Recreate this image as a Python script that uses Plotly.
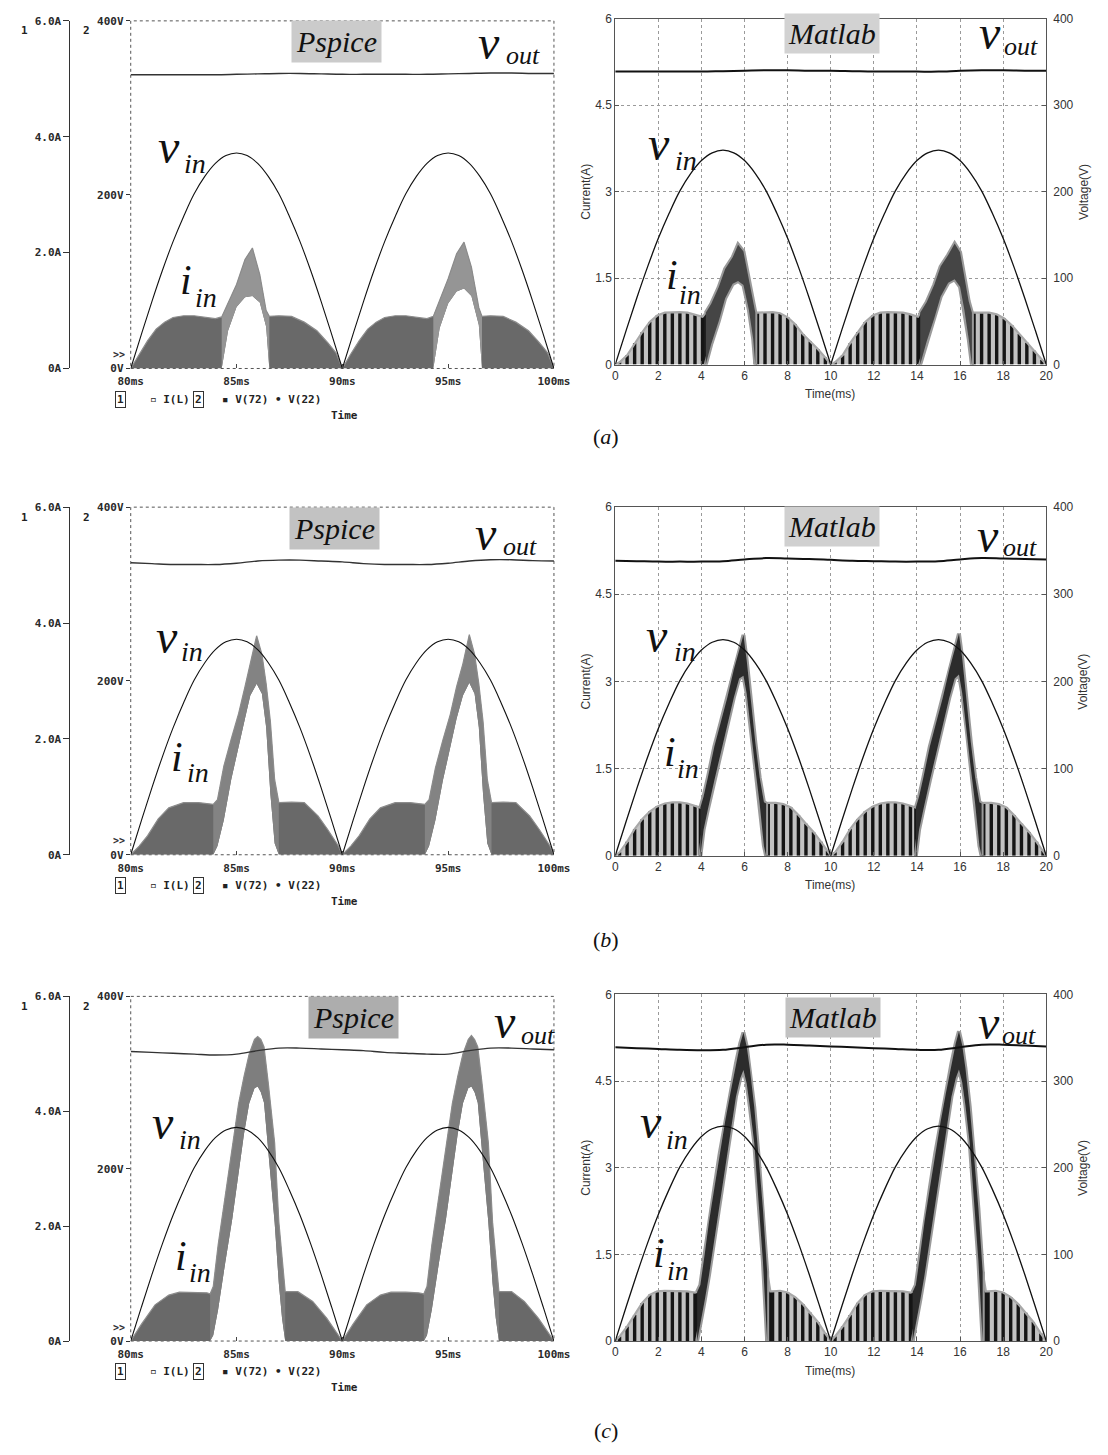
import plotly.graph_objects as go

W, H = 1108, 1455

# ------------------------------------------------------------------ data
# input voltage |v_in| (V), read every 0.5 ms
pspice_vin_t = [80.0, 80.5, 81.0, 81.5, 82.0, 82.5, 83.0, 83.5, 84.0, 84.5, 85.0, 85.5, 86.0, 86.5, 87.0, 87.5,
                88.0, 88.5, 89.0, 89.5, 90.0, 90.5, 91.0, 91.5, 92.0, 92.5, 93.0, 93.5, 94.0, 94.5, 95.0, 95.5,
                96.0, 96.5, 97.0, 97.5, 98.0, 98.5, 99.0, 99.5, 100.0]
matlab_vin_t = [0.0, 0.5, 1.0, 1.5, 2.0, 2.5, 3.0, 3.5, 4.0, 4.5, 5.0, 5.5, 6.0, 6.5, 7.0, 7.5,
                8.0, 8.5, 9.0, 9.5, 10.0, 10.5, 11.0, 11.5, 12.0, 12.5, 13.0, 13.5, 14.0, 14.5, 15.0, 15.5,
                16.0, 16.5, 17.0, 17.5, 18.0, 18.5, 19.0, 19.5, 20.0]
vin_v = [0, 39, 77, 113, 146, 175, 201, 221, 236, 245, 248, 245, 236, 221, 201, 175, 146, 113, 77, 39,
         0, 39, 77, 113, 146, 175, 201, 221, 236, 245, 248, 245, 236, 221, 201, 175, 146, 113, 77, 39, 0]

# output voltage v_out (V), read every 1 ms
pspice_vout_t = [80, 81, 82, 83, 84, 85, 86, 87, 88, 89, 90, 91, 92, 93, 94, 95, 96, 97, 98, 99, 100]
matlab_vout_t = [0, 1, 2, 3, 4, 5, 6, 7, 8, 9, 10, 11, 12, 13, 14, 15, 16, 17, 18, 19, 20]
pa_vout = [338, 338, 338, 338, 338, 338.5, 339, 339.5, 339.5, 339, 338.5, 338.5, 338.5, 338.5, 338.5, 339, 339.5, 340, 340, 339.5, 339.5]
pb_vout = [336, 335, 334, 334, 334, 335.5, 338, 339, 339, 338, 337, 335, 334, 334, 334, 335.5, 338, 339.5, 339.5, 338.5, 338]
pc_vout = [336, 335, 334, 333, 332, 333, 337, 340, 340, 339, 338, 337, 335, 334, 333, 333, 337, 340, 340, 339, 338]
ma_vout = [339, 339, 339, 339, 339, 339.5, 340, 340.5, 340.5, 340, 340, 339.5, 339, 339, 339, 339, 340, 340.5, 340.5, 340, 340]
mb_vout = [338.5, 338, 337.5, 337.5, 337.5, 338, 340, 341.5, 341, 340.5, 339.5, 338.5, 338, 337.5, 337.5, 338, 340, 341.5, 341, 340.5, 340]
mc_vout = [339, 338, 337, 336, 335.5, 336, 339, 342, 342, 341, 340, 339, 338, 337, 336, 336, 339, 342, 342, 341, 340]

# input current i_in envelopes (A): upper and lower edge of the switching ripple band
pa_t = [80.0, 80.4, 80.8, 81.2, 81.6, 82.0, 82.5, 83.0, 83.5, 84.0, 84.3, 84.6, 85.0, 85.4, 85.75, 86.1, 86.4, 86.55,
        87.0, 87.6, 88.2, 88.8, 89.3, 89.7,
        90.0, 90.4, 90.8, 91.2, 91.6, 92.0, 92.5, 93.0, 93.5, 94.0, 94.3, 94.6, 95.0, 95.4, 95.75, 96.1, 96.45, 96.6,
        97.0, 97.6, 98.2, 98.8, 99.3, 99.7, 100.0]
pa_up = [0, 0.25, 0.48, 0.68, 0.8, 0.88, 0.91, 0.91, 0.88, 0.86, 0.89, 1.12, 1.45, 1.88, 2.08, 1.62, 1.0, 0.9,
         0.91, 0.9, 0.8, 0.65, 0.45, 0.27,
         0, 0.25, 0.48, 0.68, 0.8, 0.88, 0.91, 0.91, 0.88, 0.86, 0.9, 1.18, 1.55, 1.98, 2.18, 1.75, 1.05, 0.9,
         0.91, 0.9, 0.8, 0.65, 0.45, 0.27, 0]
pa_lo = [0, 0, 0, 0, 0, 0, 0, 0, 0, 0, 0, 0.65, 1.06, 1.23, 1.25, 1.14, 0.72, 0,
         0, 0, 0, 0, 0, 0,
         0, 0, 0, 0, 0, 0, 0, 0, 0, 0, 0, 0.7, 1.12, 1.33, 1.38, 1.25, 0.75, 0,
         0, 0, 0, 0, 0, 0, 0]

pb_t = [80.0, 80.4, 80.8, 81.3, 81.8, 82.5, 83.2, 83.9, 84.1, 84.4, 84.75, 85.1, 85.4, 85.65, 85.95, 86.2, 86.4, 86.6,
        86.8, 87.0, 87.6, 88.2, 88.85, 89.3, 89.8,
        90.0, 90.4, 90.8, 91.3, 91.8, 92.5, 93.2, 93.9, 94.1, 94.4, 94.75, 95.1, 95.4, 95.7, 96.0, 96.25, 96.45, 96.65,
        96.85, 97.05, 97.6, 98.2, 98.85, 99.3, 99.8, 100.0]
pb_up = [0, 0.15, 0.33, 0.62, 0.81, 0.9, 0.9, 0.87, 0.95, 1.53, 2.0, 2.44, 2.9, 3.3, 3.78, 3.46, 2.95, 2.3,
         1.3, 0.9, 0.91, 0.9, 0.67, 0.44, 0.16,
         0, 0.15, 0.33, 0.62, 0.81, 0.9, 0.9, 0.87, 0.95, 1.5, 1.98, 2.42, 2.9, 3.3, 3.8, 3.46, 2.95, 2.3,
         1.3, 0.9, 0.91, 0.9, 0.67, 0.44, 0.16, 0]
pb_lo = [0, 0, 0, 0, 0, 0, 0, 0, 0.15, 0.6, 1.3, 1.85, 2.35, 2.75, 2.95, 2.78, 2.2, 1.05,
         0.2, 0, 0, 0, 0, 0, 0,
         0, 0, 0, 0, 0, 0, 0, 0, 0.15, 0.6, 1.28, 1.85, 2.35, 2.75, 2.97, 2.78, 2.2, 1.05,
         0.2, 0, 0, 0, 0, 0, 0, 0]

pc_t = [80.0, 80.5, 81.15, 81.8, 82.3, 83.0, 83.6, 83.75, 83.9, 84.13, 84.46, 84.8, 85.1, 85.35, 85.6, 85.85, 86.0,
        86.15, 86.3, 86.5, 86.8, 87.0, 87.15, 87.3, 87.9, 88.6, 89.26, 89.9,
        90.0, 90.5, 91.15, 91.8, 92.3, 93.0, 93.6, 93.85, 94.0, 94.23, 94.56, 94.9, 95.2, 95.45, 95.7, 95.95, 96.1,
        96.25, 96.4, 96.6, 96.9, 97.1, 97.25, 97.4, 98.0, 98.6, 99.26, 99.9, 100.0]
pc_up = [0, 0.29, 0.63, 0.8, 0.85, 0.85, 0.84, 0.82, 0.95, 1.67, 2.53, 3.34, 4.14, 4.6, 5.0, 5.25, 5.3,
         5.25, 5.12, 4.49, 3.45, 2.07, 1.4, 0.86, 0.86, 0.69, 0.4, 0.06,
         0, 0.29, 0.63, 0.8, 0.85, 0.85, 0.84, 0.82, 0.95, 1.67, 2.53, 3.34, 4.14, 4.6, 5.0, 5.25, 5.32,
         5.25, 5.12, 4.49, 3.45, 2.07, 1.4, 0.86, 0.86, 0.69, 0.4, 0.06, 0]
pc_lo = [0, 0, 0, 0, 0, 0, 0, 0, 0.1, 0.55, 1.35, 2.13, 2.9, 3.6, 4.14, 4.4, 4.43,
         4.33, 4.15, 3.3, 2.07, 1.0, 0.4, 0, 0, 0, 0, 0,
         0, 0, 0, 0, 0, 0, 0, 0, 0.1, 0.55, 1.35, 2.13, 2.9, 3.6, 4.14, 4.4, 4.43,
         4.33, 4.15, 3.3, 2.07, 1.0, 0.4, 0, 0, 0, 0, 0, 0]

ma_t = [0, 0.2, 0.55, 0.9, 1.25, 1.6, 1.95, 2.3, 2.65, 3.0, 3.35, 3.7, 4.05,
        4.2, 4.45, 4.8, 5.1, 5.45, 5.7, 5.95, 6.2, 6.4, 6.5,
        6.6, 6.95, 7.3, 7.65, 8.0, 8.35, 8.7, 9.05, 9.4, 9.75, 10.0,
        10.2, 10.55, 10.9, 11.25, 11.6, 11.95, 12.3, 12.65, 13.0, 13.35, 13.7, 14.05,
        14.15, 14.45, 14.8, 15.1, 15.45, 15.75, 16.0, 16.2, 16.4, 16.55,
        16.65, 17.0, 17.35, 17.7, 18.05, 18.4, 18.75, 19.1, 19.45, 19.8, 20.0]
ma_up = [0, 0.04, 0.16, 0.37, 0.56, 0.74, 0.85, 0.9, 0.91, 0.91, 0.9, 0.87, 0.83,
         0.9, 1.05, 1.34, 1.66, 1.86, 2.08, 1.96, 1.45, 1.05, 0.9,
         0.9, 0.91, 0.91, 0.89, 0.82, 0.7, 0.53, 0.4, 0.27, 0.12, 0,
         0.04, 0.16, 0.37, 0.56, 0.74, 0.85, 0.9, 0.91, 0.91, 0.9, 0.87, 0.83,
         0.9, 1.08, 1.38, 1.7, 1.9, 2.1, 1.95, 1.5, 1.1, 0.9,
         0.9, 0.91, 0.9, 0.87, 0.8, 0.68, 0.53, 0.38, 0.24, 0.08, 0]
ma_lo = ([0] * 13 + [0, 0.35, 0.75, 1.15, 1.4, 1.45, 1.38, 0.95, 0.45, 0] + [0] * 23
         + [0, 0.4, 0.8, 1.18, 1.42, 1.48, 1.35, 0.95, 0.45, 0] + [0] * 11)

mb_t = [0, 0.2, 0.55, 0.9, 1.25, 1.6, 1.95, 2.3, 2.65, 3.0, 3.35, 3.7,
        3.95, 4.1, 4.3, 4.6, 4.9, 5.2, 5.5, 5.75, 5.95, 6.1, 6.3, 6.5, 6.7, 6.9, 7.0,
        7.1, 7.45, 7.8, 8.15, 8.5, 8.85, 9.2, 9.55, 9.85, 10.0,
        10.2, 10.55, 10.9, 11.25, 11.6, 11.95, 12.3, 12.65, 13.0, 13.35, 13.7,
        13.95, 14.1, 14.3, 14.6, 14.9, 15.2, 15.5, 15.75, 15.95, 16.1, 16.3, 16.5, 16.7, 16.9, 17.0,
        17.1, 17.45, 17.8, 18.15, 18.5, 18.85, 19.2, 19.55, 19.85, 20.0]
mb_up = [0, 0.06, 0.24, 0.46, 0.63, 0.76, 0.85, 0.9, 0.92, 0.92, 0.9, 0.86,
         0.83, 1.02, 1.35, 1.88, 2.3, 2.72, 3.2, 3.55, 3.8, 3.36, 2.6, 1.95, 1.35, 0.92, 0.9,
         0.91, 0.91, 0.89, 0.83, 0.7, 0.55, 0.41, 0.24, 0.08, 0,
         0.06, 0.24, 0.46, 0.63, 0.76, 0.85, 0.9, 0.92, 0.92, 0.9, 0.86,
         0.83, 1.02, 1.35, 1.88, 2.3, 2.72, 3.2, 3.55, 3.82, 3.4, 2.65, 1.95, 1.35, 0.92, 0.9,
         0.91, 0.91, 0.89, 0.83, 0.7, 0.55, 0.41, 0.24, 0.08, 0]
mb_lo = ([0] * 12 + [0, 0.45, 0.8, 1.3, 1.8, 2.25, 2.72, 3.05, 3.1, 2.79, 2.15, 1.5, 0.9, 0.17, 0] + [0] * 21
         + [0, 0.45, 0.8, 1.3, 1.8, 2.25, 2.72, 3.05, 3.12, 2.8, 2.2, 1.5, 0.9, 0.17, 0] + [0] * 10)

mc_t = [0, 0.2, 0.55, 0.9, 1.25, 1.6, 1.95, 2.3, 2.65, 3.0, 3.35, 3.7,
        3.8, 3.95, 4.15, 4.35, 4.6, 4.85, 5.1, 5.35, 5.6, 5.8, 5.95, 6.1, 6.25, 6.45, 6.65, 6.85, 7.05, 7.2,
        7.3, 7.65, 8.0, 8.35, 8.7, 9.05, 9.4, 9.75, 10.0,
        10.2, 10.55, 10.9, 11.25, 11.6, 11.95, 12.3, 12.65, 13.0, 13.35, 13.7,
        13.8, 13.95, 14.15, 14.35, 14.6, 14.85, 15.1, 15.35, 15.6, 15.8, 15.95, 16.1, 16.25, 16.45, 16.65, 16.85, 17.05, 17.2,
        17.3, 17.65, 18.0, 18.35, 18.7, 19.05, 19.4, 19.75, 20.0]
mc_up = [0, 0.08, 0.25, 0.45, 0.66, 0.8, 0.86, 0.87, 0.87, 0.87, 0.86, 0.84,
         0.85, 0.97, 1.5, 2.06, 2.65, 3.25, 3.8, 4.3, 4.8, 5.15, 5.34, 5.1, 4.7, 4.05, 3.2, 2.3, 1.2, 0.86,
         0.86, 0.87, 0.84, 0.76, 0.64, 0.49, 0.33, 0.13, 0,
         0.08, 0.25, 0.45, 0.66, 0.8, 0.86, 0.87, 0.87, 0.87, 0.86, 0.84,
         0.85, 0.97, 1.5, 2.06, 2.65, 3.25, 3.8, 4.3, 4.8, 5.15, 5.36, 5.12, 4.72, 4.05, 3.2, 2.3, 1.2, 0.86,
         0.86, 0.87, 0.84, 0.76, 0.64, 0.49, 0.33, 0.13, 0]
mc_lo = ([0] * 12 + [0, 0.3, 0.7, 1.14, 1.75, 2.4, 3.0, 3.6, 4.23, 4.55, 4.69, 4.46, 4.05, 3.43, 2.4, 1.4, 0, 0]
         + [0] * 20 + [0, 0.3, 0.7, 1.14, 1.75, 2.4, 3.0, 3.6, 4.23, 4.55, 4.7, 4.48, 4.08, 3.43, 2.4, 1.4, 0, 0]
         + [0] * 9)

pspice_x_ticks = [80, 85, 90, 95, 100]
pspice_x_labels = ['80ms', '85ms', '90ms', '95ms', '100ms']
pspice_i_ticks = [0, 2, 4, 6]
pspice_i_labels = ['0A', '2.0A', '4.0A', '6.0A']
pspice_v_ticks = [0, 200, 400]
pspice_v_labels = ['0V', '200V', '400V']
matlab_x_ticks = [0, 2, 4, 6, 8, 10, 12, 14, 16, 18, 20]
matlab_i_ticks = [0, 1.5, 3, 4.5, 6]
matlab_i_labels = ['0', '1.5', '3', '4.5', '6']
matlab_v_ticks = [0, 100, 200, 300, 400]

# ------------------------------------------------------------------ helpers
SERIF = 'Liberation Serif, DejaVu Serif, serif'
MONO = 'DejaVu Sans Mono, Liberation Mono, monospace'
SANS = 'Liberation Sans, Arial, sans-serif'
PS_FONT = dict(family=MONO, size=11, color='#2a2a2a', weight='bold')
ML_FONT = dict(family=SANS, size=12, color='#333333')


def fx(p):
    return p / W


def fy(p):
    return 1 - p / H


def axname(k, n):
    return f'{k}axis' if n == 1 else f'{k}axis{n}'


def ref(k, n):
    return k if n == 1 else f'{k}{n}'


def arcs(t, v):
    xs, ys, start = [], [], 0
    for i in range(1, len(v)):
        if v[i] == 0:
            xs += list(t[start:i + 1]) + [None]
            ys += list(v[start:i + 1]) + [None]
            start = i
    return xs, ys


def ccm_runs(lo):
    runs, i, n = [], 0, len(lo)
    while i < n:
        if lo[i] > 0:
            j = i
            while j + 1 < n and lo[j + 1] > 0:
                j += 1
            runs.append((max(i - 1, 0), min(j + 1, n - 1)))
            i = j + 1
        else:
            i += 1
    return runs


def band(t, up, lo, a=0, b=None):
    if b is None:
        b = len(t) - 1
    ts, u, l = list(t[a:b + 1]), list(up[a:b + 1]), list(lo[a:b + 1])
    return ts + ts[::-1], u + l[::-1]


annotations = []
shapes = []
axes = {}
fig = go.Figure()


def A(text, x, y, size, family=SERIF, color='#111111', weight=None, **kw):
    f = dict(family=family, size=size, color=color)
    if weight:
        f['weight'] = weight
    d = dict(text=text, x=fx(x), y=fy(y), xref='paper', yref='paper', showarrow=False,
             font=f, xanchor='center', yanchor='middle')
    d.update(kw)
    annotations.append(d)


def sym(main, sub, pm, ps, main_size=48, sub_size=26):
    A(f'<i>{main}</i>', pm[0], pm[1] - 4, main_size)
    A(f'<i>{sub}</i>', ps[0], ps[1] - 2, sub_size)


def pspice_panel(row, t, up, lo, vout, top, bot, ccm_color):
    xn, ya, yv = 2 * row + 1, 4 * row + 1, 4 * row + 2
    xr, yar, yvr = ref('x', xn), ref('y', ya), ref('y', yv)
    axes[axname('x', xn)] = dict(domain=[fx(121), fx(556)], range=[80, 100], anchor=yar,
                                 tickvals=pspice_x_ticks, ticktext=pspice_x_labels, ticks='inside',
                                 ticklen=4, tickcolor='#444', showgrid=False, zeroline=False,
                                 showline=False, tickfont=PS_FONT, ticklabelstandoff=5)
    axes[axname('y', ya)] = dict(domain=[fy(bot), fy(top)], range=[0, 6], anchor='free', position=fx(58),
                                 side='left', tickvals=pspice_i_ticks, ticktext=pspice_i_labels,
                                 ticks='outside', ticklen=6, tickcolor='#333', showline=True,
                                 linecolor='#333', linewidth=1, showgrid=False, zeroline=False,
                                 tickfont=PS_FONT)
    axes[axname('y', yv)] = dict(range=[0, 400], overlaying=yar, anchor=xr, side='left',
                                 tickvals=pspice_v_ticks, ticktext=pspice_v_labels, ticks='outside',
                                 ticklen=4, tickcolor='#333', showline=False, showgrid=False,
                                 zeroline=False, tickfont=PS_FONT)
    shapes.append(dict(type='rect', xref=f'{xr} domain', yref=f'{yar} domain', x0=0, x1=1, y0=0, y1=1,
                       line=dict(color='#555', width=1, dash='3px,3px'), layer='below'))
    bx, by = band(t, up, lo)
    fig.add_trace(go.Scatter(x=bx, y=by, xaxis=xr, yaxis=yar, mode='lines', fill='toself',
                             fillcolor='#696969', line=dict(width=0), hoverinfo='skip'))
    for a, b in ccm_runs(lo):
        cx, cy = band(t, up, lo, a, b)
        fig.add_trace(go.Scatter(x=cx, y=cy, xaxis=xr, yaxis=yar, mode='lines', fill='toself',
                                 fillcolor=ccm_color, line=dict(width=0), hoverinfo='skip'))
    fig.add_trace(go.Scatter(x=t, y=up, xaxis=xr, yaxis=yar, mode='lines',
                             line=dict(color='#8c8c8c', width=1.2), hoverinfo='skip'))
    vx, vy = arcs(pspice_vin_t, vin_v)
    fig.add_trace(go.Scatter(x=vx, y=vy, xaxis=xr, yaxis=yvr, mode='lines', line_shape='spline',
                             line=dict(color='#111', width=1.1), hoverinfo='skip'))
    fig.add_trace(go.Scatter(x=pspice_vout_t, y=vout, xaxis=xr, yaxis=yvr, mode='lines', line_shape='spline',
                             line=dict(color='#333', width=1.4), hoverinfo='skip'))
    # side labels and legend text
    A('1', 12, top + 10, 11, MONO, '#222', 'bold')
    A('2', 76, top + 10, 11, MONO, '#222', 'bold')
    A('&gt;&gt;', 109, bot - 14, 10, MONO, '#333', 'bold')
    A('1', 111, bot + 31, 11, MONO, '#222', 'bold', bordercolor='#333', borderwidth=1, borderpad=1)
    A('▫ I(L)', 161, bot + 31, 11, MONO, '#222', 'bold')
    A('2', 191, bot + 31, 11, MONO, '#222', 'bold', bordercolor='#333', borderwidth=1, borderpad=1)
    A('▪ V(72) • V(22)', 266, bot + 31, 11, MONO, '#222', 'bold')
    A('Time', 341, bot + 47, 11, MONO, '#222', 'bold')


def matlab_panel(row, t, up, lo, vout, top, bot, ccm_color):
    xn, yi, yv = 2 * row + 2, 4 * row + 3, 4 * row + 4
    xr, yir, yvr = ref('x', xn), ref('y', yi), ref('y', yv)
    axes[axname('x', xn)] = dict(domain=[fx(619), fx(1062)], range=[0, 20], anchor=yir,
                                 tickvals=matlab_x_ticks, ticks='inside', ticklen=4, tickcolor='#555',
                                 showline=True, mirror=True, linecolor='#555', linewidth=1,
                                 showgrid=True, gridcolor='#9a9a9a', griddash='dot', gridwidth=1,
                                 zeroline=False, tickfont=ML_FONT, ticklabelstandoff=0)
    axes[axname('y', yi)] = dict(domain=[fy(bot), fy(top)], range=[0, 6], anchor=xr, side='left',
                                 tickvals=matlab_i_ticks, ticktext=matlab_i_labels, ticks='inside',
                                 ticklen=4, tickcolor='#555', showline=True, mirror=True,
                                 linecolor='#555', linewidth=1, showgrid=True, gridcolor='#9a9a9a',
                                 griddash='dot', gridwidth=1, zeroline=False, tickfont=ML_FONT)
    axes[axname('y', yv)] = dict(range=[0, 400], overlaying=yir, anchor=xr, side='right',
                                 tickvals=matlab_v_ticks, ticks='inside', ticklen=4, tickcolor='#555',
                                 showline=False, showgrid=False, zeroline=False, tickfont=ML_FONT,
                                 ticklabelstandoff=6)
    bx, by = band(t, up, lo)
    fig.add_trace(go.Scatter(x=bx, y=by, xaxis=xr, yaxis=yir, mode='lines', fill='toself',
                             fillcolor='#c2c2c2', line=dict(width=0), hoverinfo='skip'))
    sx, sy = [], []
    for ti, u, l in zip(t, up, lo):
        if l == 0 and u > 0.03:
            sx += [ti, ti, None]
            sy += [0, u, None]
    fig.add_trace(go.Scatter(x=sx, y=sy, xaxis=xr, yaxis=yir, mode='lines',
                             line=dict(color='#151515', width=3.4), hoverinfo='skip'))
    fig.add_trace(go.Scatter(x=t, y=up, xaxis=xr, yaxis=yir, mode='lines',
                             line=dict(color='#a8a8a8', width=2.2), hoverinfo='skip'))
    for a, b in ccm_runs(lo):
        cx, cy = band(t, up, lo, a, b)
        fig.add_trace(go.Scatter(x=cx, y=cy, xaxis=xr, yaxis=yir, mode='lines',
                                 line=dict(color='#9a9a9a', width=4), hoverinfo='skip'))
        fig.add_trace(go.Scatter(x=cx, y=cy, xaxis=xr, yaxis=yir, mode='lines', fill='toself',
                                 fillcolor=ccm_color, line=dict(width=0), hoverinfo='skip'))
    vx, vy = arcs(matlab_vin_t, vin_v)
    fig.add_trace(go.Scatter(x=vx, y=vy, xaxis=xr, yaxis=yvr, mode='lines', line_shape='spline',
                             line=dict(color='#111', width=1.3), hoverinfo='skip'))
    fig.add_trace(go.Scatter(x=matlab_vout_t, y=vout, xaxis=xr, yaxis=yvr, mode='lines', line_shape='spline',
                             line=dict(color='#111', width=2.0), hoverinfo='skip'))
    mid = (top + bot) / 2
    A('Current(A)', 589, mid, 12, SANS, '#333', textangle=-90)
    A('Voltage(V)', 1100, mid, 12, SANS, '#333', textangle=-90)
    A('Time(ms)', 840, bot + 30, 12, SANS, '#333')


# ------------------------------------------------------------------ rows
pspice_panel(0, pa_t, pa_up, pa_lo, pa_vout, 14, 365, '#959595')
matlab_panel(0, ma_t, ma_up, ma_lo, ma_vout, 12, 361, '#454545')
pspice_panel(1, pb_t, pb_up, pb_lo, pb_vout, 505, 856, '#838383')
matlab_panel(1, mb_t, mb_up, mb_lo, mb_vout, 505, 857, '#2c2c2c')
pspice_panel(2, pc_t, pc_up, pc_lo, pc_vout, 999, 1347, '#7e7e7e')
matlab_panel(2, mc_t, mc_up, mc_lo, mc_vout, 997, 1347, '#2c2c2c')

# titles in grey boxes
A('<i>Pspice</i>', 332, 35, 30, bgcolor='#cbcbcb', borderpad=4)
A('<i>Matlab</i>', 842, 27, 30, bgcolor='#d2d2d2', borderpad=3)
A('<i>Pspice</i>', 330, 527, 30, bgcolor='#c2c2c2', borderpad=4)
A('<i>Matlab</i>', 842, 525, 30, bgcolor='#d0d0d0', borderpad=3)
A('<i>Pspice</i>', 350, 1020, 30, bgcolor='#adadad', borderpad=4)
A('<i>Matlab</i>', 843, 1020, 30, bgcolor='#c2c2c2', borderpad=3)

# signal names
sym('v', 'out', (489, 40), (524, 51))
sym('v', 'in', (160, 145), (187, 160), sub_size=28)
sym('i', 'in', (178, 280), (198, 295), main_size=42, sub_size=28)
sym('v', 'out', (1004, 30), (1036, 42))
sym('v', 'in', (664, 142), (692, 157), sub_size=28)
sym('i', 'in', (677, 275), (696, 292), main_size=42, sub_size=28)

sym('v', 'out', (486, 536), (521, 547))
sym('v', 'in', (158, 640), (184, 653), sub_size=28)
sym('i', 'in', (169, 761), (190, 775), main_size=42, sub_size=28)
sym('v', 'out', (1002, 538), (1035, 548))
sym('v', 'in', (662, 639), (691, 653), sub_size=28)
sym('i', 'in', (675, 756), (694, 771), main_size=42, sub_size=28)

sym('v', 'out', (506, 1028), (540, 1040))
sym('v', 'in', (154, 1130), (182, 1145), sub_size=28)
sym('i', 'in', (173, 1265), (192, 1280), main_size=42, sub_size=28)
sym('v', 'out', (1003, 1029), (1034, 1040))
sym('v', 'in', (656, 1129), (682, 1145), sub_size=28)
sym('i', 'in', (664, 1262), (683, 1278), main_size=42, sub_size=28)

# sub-figure labels
A('(<i>a</i>)', 610, 434, 22)
A('(<i>b</i>)', 610, 942, 22)
A('(<i>c</i>)', 610, 1437, 22)

fig.update_layout(width=W, height=H, autosize=False, margin=dict(l=0, r=0, t=0, b=0),
                  paper_bgcolor='white', plot_bgcolor='white', showlegend=False,
                  annotations=annotations, shapes=shapes, **axes)

fig.write_html('out.html')
